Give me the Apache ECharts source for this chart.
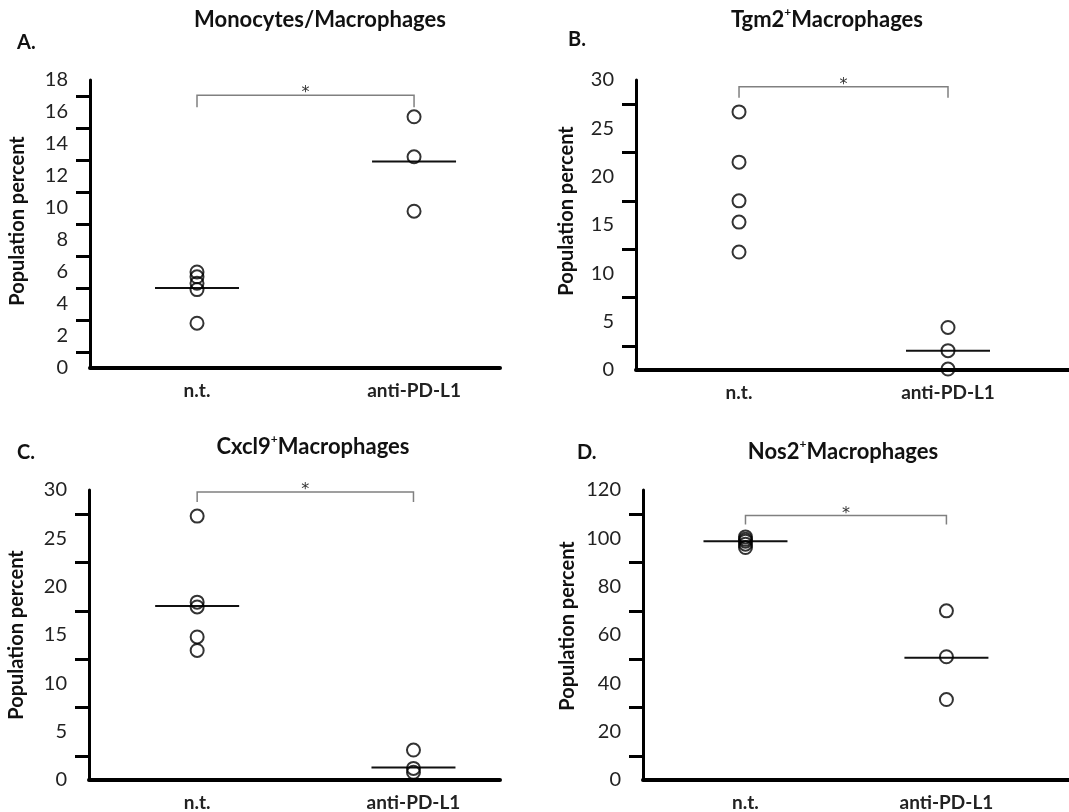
<!DOCTYPE html>
<html>
<head>
<meta charset="utf-8">
<script src="https://cdn.jsdelivr.net/npm/echarts@6/dist/echarts.min.js"></script>
<style>
html,body{margin:0;padding:0;background:#fff;}
#chart{width:1069px;height:812px;}
</style>
</head>
<body>
<div id="chart"></div>
<script>
// ---- data ----
const categories = ['n.t.', 'anti-PD-L1'];

const monoNT = [6.0, 5.7, 5.3, 4.9, 2.8];
const monoAnti = [15.7, 13.2, 9.8];
const monoMeans = [5.0, 12.9];

const tgmNT = [26.7, 21.5, 17.5, 15.3, 12.2];
const tgmAnti = [4.4, 2.0, 0.1];
const tgmMeans = [null, 2.0];

const cxclNT = [27.3, 18.4, 17.9, 14.8, 13.4];
const cxclAnti = [3.1, 1.2, 0.8];
const cxclMeans = [18.0, 1.3];

const nosNT = [100.6, 99.6, 98.8, 97.6, 96.2];
const nosAnti = [70.0, 51.0, 33.3];
const nosMeans = [98.8, 50.6];

const tickMarksA = [1, 3, 5, 7, 9, 11, 13, 15, 17];
const tickMarksB = [2.5, 7.5, 12.5, 17.5, 22.5, 27.5];
const tickMarksC = [2.5, 7.5, 12.5, 17.5, 22.5, 27.5];
const tickMarksD = [10, 30, 50, 70, 90, 110];

const bracketTops = [17.05, 29.3, 29.8, 109.5];

// ---- layout ----
const FONT = 'Lato';
const panels = [
  {title: ['Monocytes/Macrophages'], letter: 'A.', tx: 320, ty: 20, lx: 17, ly: 43,
   grid: {left: 90, top: 80, width: 410, height: 288}, xmin: 0.507, xmax: 2.396,
   ymax: 18, interval: 2, ticks: tickMarksA, nt: monoNT, anti: monoAnti, means: monoMeans, nameGap: 62, drop: 12, namePad: 6},
  {title: ['Tgm2', 'Macrophages'], letter: 'B.', tx: 827, ty: 20, lx: 568, ly: 40,
   grid: {left: 636, top: 80, width: 433, height: 290}, xmin: 0.507, xmax: 2.579,
   ymax: 30, interval: 5, ticks: tickMarksB, nt: tgmNT, anti: tgmAnti, means: tgmMeans, nameGap: 59, drop: 11, namePad: 28},
  {title: ['Cxcl9', 'Macrophages'], letter: 'C.', tx: 313, ty: 447, lx: 17, ly: 453,
   grid: {left: 89, top: 490, width: 411, height: 293}, xmin: 0.5, xmax: 2.40,
   ymax: 30, interval: 5, ticks: tickMarksC, nt: cxclNT, anti: cxclAnti, means: cxclMeans, nameGap: 62, drop: 10, namePad: 0},
  {title: ['Nos2', 'Macrophages'], letter: 'D.', tx: 843, ty: 452, lx: 577, ly: 453,
   grid: {left: 643, top: 490, width: 426, height: 293}, xmin: 0.49, xmax: 2.61,
   ymax: 120, interval: 20, ticks: tickMarksD, nt: nosNT, anti: nosAnti, means: nosMeans, nameGap: 65, drop: 9, namePad: 18}
];

const grids = [], xAxes = [], yAxes = [], series = [], graphics = [];

panels.forEach((p, i) => {
  grids.push(Object.assign({containLabel: false}, p.grid));
  xAxes.push({
    type: 'value', gridIndex: i, min: p.xmin, max: p.xmax,
    axisLine: {onZero: false, lineStyle: {color: '#000', width: 4}},
    axisTick: {show: false},
    splitLine: {show: false},
    axisLabel: {
      customValues: [1, 2],
      formatter: v => categories[Math.round(v) - 1],
      fontFamily: FONT, fontWeight: 'bold', fontSize: 19, color: '#222', margin: 13
    }
  });
  yAxes.push({
    type: 'value', gridIndex: i, min: 0, max: p.ymax, interval: p.interval,
    name: 'Population percent', nameLocation: 'middle', nameGap: p.nameGap,
    nameTextStyle: {fontFamily: FONT, fontWeight: 'bold', fontSize: 20, color: '#111', padding: [0, 0, 0, p.namePad]},
    axisLine: {show: true, onZero: false, lineStyle: {color: '#000', width: 3}},
    axisTick: {show: true, customValues: p.ticks, length: 14, lineStyle: {color: '#000', width: 3}},
    splitLine: {show: false},
    axisLabel: {fontFamily: FONT, fontSize: 20, color: '#222', margin: 22}
  });
  const pts = p.nt.map(v => [1, v]).concat(p.anti.map(v => [2, v]));
  series.push({
    type: 'scatter', xAxisIndex: i, yAxisIndex: i, data: pts,
    symbol: 'circle', symbolSize: 13,
    itemStyle: {color: 'rgba(255,255,255,0)', borderColor: '#000', borderWidth: 2},
    z: 3
  });
  const meanData = [];
  p.means.forEach((m, k) => { if (m !== null) meanData.push([k + 1, m]); });
  series.push({
    type: 'custom', xAxisIndex: i, yAxisIndex: i, data: meanData, clip: false, z: 2,
    renderItem: (params, api) => {
      const c = api.coord([api.value(0), api.value(1)]);
      return {type: 'line', shape: {x1: c[0] - 42, y1: c[1], x2: c[0] + 42, y2: c[1]},
        style: {stroke: '#111', lineWidth: 2}};
    }
  });
  const drop = p.drop;
  series.push({
    type: 'custom', xAxisIndex: i, yAxisIndex: i, data: [[1, 2, bracketTops[i]]], clip: false, z: 2,
    renderItem: (params, api) => {
      const a = api.coord([api.value(0), api.value(2)]);
      const b = api.coord([api.value(1), api.value(2)]);
      return {type: 'group', children: [
        {type: 'polyline', shape: {points: [[a[0], a[1] + drop], [a[0], a[1]], [b[0], b[1]], [b[0], b[1] + drop]]},
          style: {stroke: '#808080', lineWidth: 1.5, fill: null}},
        {type: 'text', x: (a[0] + b[0]) / 2, y: a[1] - 2,
          style: {text: '*', fill: '#333', font: '16px "DejaVu Sans"', align: 'center', verticalAlign: 'middle'}}
      ]};
    }
  });
  let txt, rich = {n: {fontFamily: FONT, fontWeight: 'bold', fontSize: 22, lineHeight: 28, fill: '#111'},
                   s: {fontFamily: FONT, fontWeight: 'bold', fontSize: 12, verticalAlign: 'top', fill: '#111'}};
  if (p.title.length === 1) txt = '{n|' + p.title[0] + '}';
  else txt = '{n|' + p.title[0] + '}{s|+}{n|' + p.title[1] + '}';
  graphics.push({type: 'text', x: p.tx, y: p.ty,
    style: {text: txt, rich: rich, align: 'center', verticalAlign: 'middle'}});
  graphics.push({type: 'text', x: p.lx, y: p.ly,
    style: {text: p.letter, font: 'bold 20px ' + FONT, fill: '#111', align: 'left', verticalAlign: 'middle'}});
});

const chart = echarts.init(document.getElementById('chart'), null, {renderer: 'canvas'});
chart.setOption({
  animation: false,
  backgroundColor: '#fff',
  grid: grids, xAxis: xAxes, yAxis: yAxes, series: series, graphic: graphics
});
</script>
</body>
</html>
